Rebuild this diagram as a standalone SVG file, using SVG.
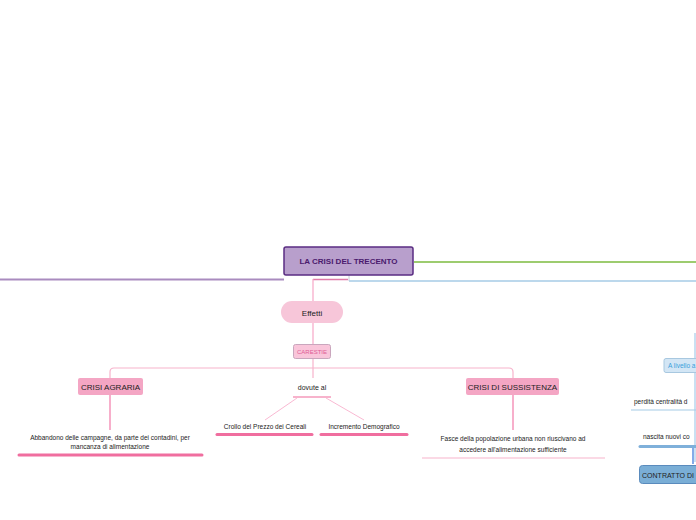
<svg xmlns="http://www.w3.org/2000/svg" width="696" height="520" viewBox="0 0 696 520">
<style>
text{font-family:"Liberation Sans",Arial,sans-serif;fill:#222;}
.c{text-anchor:middle;}
.pk{fill:none;stroke:#f7b3cc;stroke-width:1.2;}
.pk2{fill:none;stroke:#f27aa8;stroke-width:1.2;}
.ul{stroke:#f06e9f;stroke-width:3;stroke-linecap:round;}
.bl{fill:none;stroke:#b9d6ee;stroke-width:1.5;}
</style>
<rect width="696" height="520" fill="#ffffff"/>
<g id="connectors">
<path d="M0 279.5 H284" stroke="#a98bbf" stroke-width="2" fill="none"/>
<path d="M414 262 H696" stroke="#7cbb3f" stroke-width="1.3" fill="none"/>
<path d="M349 281 H696" stroke="#a6cbe6" stroke-width="1.5" fill="none"/>
<path d="M349 274 V281" stroke="#c8c8d8" stroke-width="1" fill="none"/>
<path d="M313 279.5 H348" stroke="#e07aa8" stroke-width="1.5" fill="none"/>
<path d="M313 279 V301" stroke="#f7a6c6" stroke-width="1.2" fill="none"/>
<path d="M313 323 V344" stroke="#f7a6c6" stroke-width="1.2" fill="none"/>
<path d="M313 358 V368" class="pk"/>
<path d="M110 378 V372 Q110 368 114 368 H509 Q513 368 513 372 V378" class="pk"/>
<path d="M313 368 V378" class="pk"/>
<path d="M110 395 V430" class="pk2"/>
<path d="M513 395 V430" class="pk2"/>
<path d="M297 398 L265 420 M326 398 L364 420" stroke="#f7a6c6" stroke-width="0.8" fill="none"/>
<path d="M695 333 V462" class="bl"/>
<path d="M693 447 V464" stroke="#5b8fe0" stroke-width="1.5" fill="none"/>
</g>
<g id="main">
<rect x="284" y="247" width="129" height="28" rx="2" fill="#b89fcc" stroke="#5a2d82" stroke-width="1.5"/>
<text x="348.5" y="264" class="c" font-size="8" font-weight="bold" style="fill:#4a1a6e">LA CRISI DEL TRECENTO</text>
</g>
<g id="effetti">
<rect x="281" y="301" width="62" height="22" rx="11" fill="#f7c6d9"/>
<text x="312" y="315.5" class="c" font-size="8">Effetti</text>
</g>
<g id="carestie">
<rect x="293.5" y="344.5" width="37" height="14" rx="2" fill="#f9c5da" stroke="#c9a6bd" stroke-width="1"/>
<text x="312" y="354" class="c" font-size="6" style="fill:#e05d96">CARESTIE</text>
</g>
<g id="crisi-agraria">
<rect x="78" y="378" width="65" height="17" rx="2" fill="#f4a6c4"/>
<text x="110.5" y="389.5" class="c" font-size="8">CRISI AGRARIA</text>
</g>
<g id="abbandono">
<text x="110" y="440" class="c" font-size="6.5">Abbandono delle campagne, da parte dei contadini, per</text>
<text x="110" y="449" class="c" font-size="6.5">mancanza di alimentazione</text>
<line x1="19" y1="455" x2="202" y2="455" class="ul"/>
</g>
<g id="dovute">
<text x="312" y="390" class="c" font-size="7">dovute al</text>
<line x1="293" y1="397" x2="331" y2="397" stroke="#f7b3cc" stroke-width="2"/>
</g>
<g id="crollo">
<text x="265" y="429" class="c" font-size="6.5">Crollo del Prezzo dei Cereali</text>
<line x1="217" y1="434.5" x2="312" y2="434.5" class="ul"/>
</g>
<g id="incremento">
<text x="364" y="429" class="c" font-size="6.5">Incremento Demografico</text>
<line x1="321" y1="434.5" x2="407" y2="434.5" class="ul"/>
</g>
<g id="crisi-sussistenza">
<rect x="466" y="378" width="93" height="17" rx="2" fill="#f4a6c4"/>
<text x="512.5" y="389.5" class="c" font-size="8">CRISI  DI SUSSISTENZA</text>
</g>
<g id="fasce">
<text x="513" y="441" class="c" font-size="6.5">Fasce della popolazione urbana non riuscivano ad</text>
<text x="513" y="452" class="c" font-size="6.5">accedere all'alimentazione sufficiente</text>
<line x1="422" y1="458" x2="605" y2="458" stroke="#f7b3cc" stroke-width="1.2"/>
</g>
<g id="livello">
<rect x="664" y="358.5" width="40" height="14" rx="2" fill="#d3e6f5" stroke="#a8c8e0" stroke-width="1"/>
<text x="668" y="368" font-size="6.5" style="fill:#3a9fdb">A livello a</text>
</g>
<g id="perdita">
<text x="634" y="404" font-size="6.5">perdità centralità d</text>
<line x1="631" y1="410" x2="696" y2="410" stroke="#a6cbe6" stroke-width="1.2"/>
</g>
<g id="nascita">
<text x="643" y="439" font-size="6.5">nascita nuovi co</text>
<line x1="640" y1="446.5" x2="696" y2="446.5" stroke="#7fb0da" stroke-width="3" stroke-linecap="round"/>
</g>
<g id="contratto">
<rect x="639.5" y="465.5" width="70" height="18" rx="3" fill="#7aaed6" stroke="#5a8bbd" stroke-width="1"/>
<text x="642" y="477.5" font-size="7" textLength="52" lengthAdjust="spacingAndGlyphs">CONTRATTO DI</text>
</g>
</svg>
